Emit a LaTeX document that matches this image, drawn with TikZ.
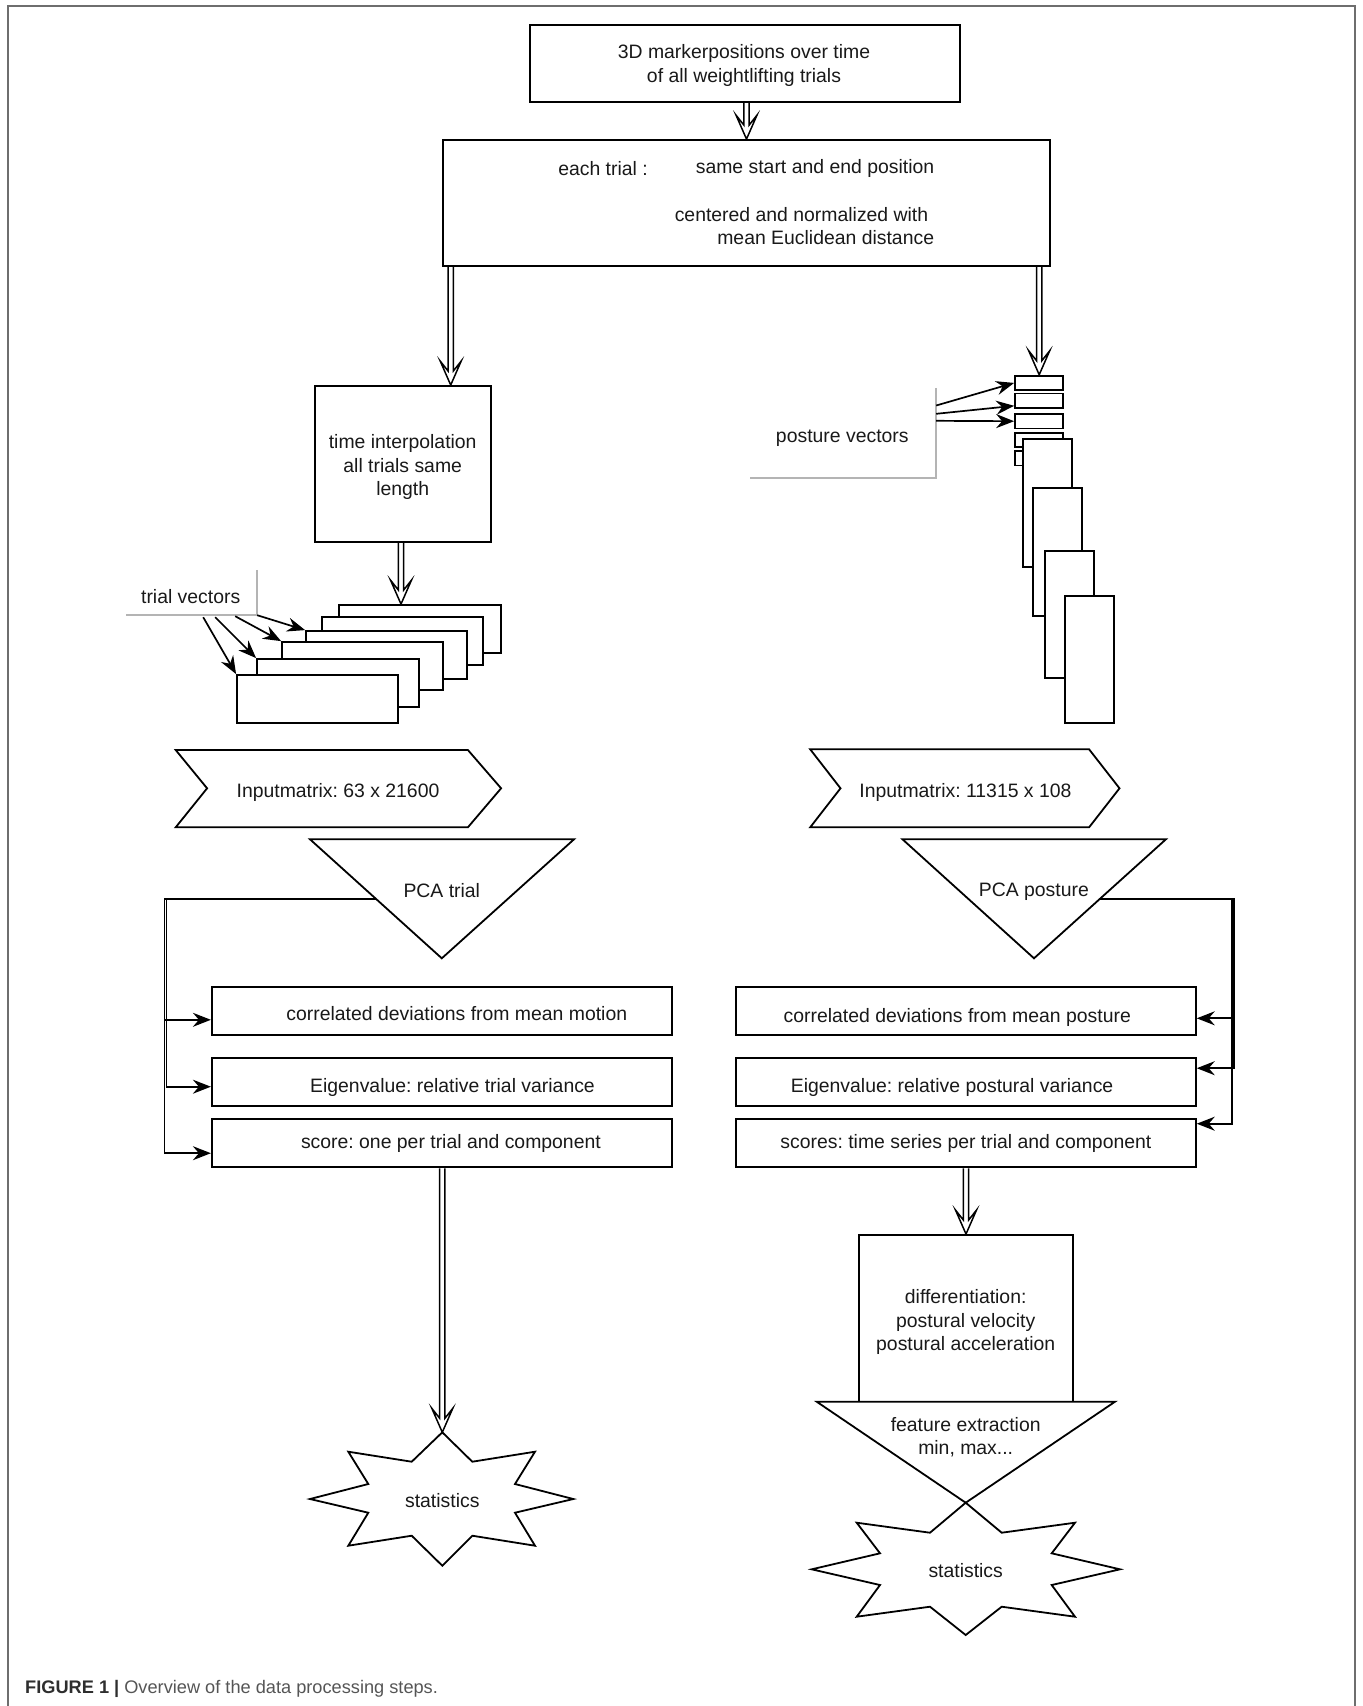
\documentclass[tikz,border=0pt]{standalone}
\usepackage{fontspec}
\setmainfont{Liberation Sans}
\usetikzlibrary{arrows.meta,calc}
\frenchspacing
\newcommand{\dfont}{\fontsize{19.4}{23.3}\selectfont}
\definecolor{framegray}{HTML}{6E6E6E}
\definecolor{lblgray}{HTML}{B4B4B4}
\definecolor{capdark}{HTML}{2E2E2E}
\definecolor{capgray}{HTML}{555555}
\newcommand{\bx}[5]{\node[bx,minimum width=#4pt,minimum height=#5pt] (#1) at (#2,#3) {};}
\newcommand{\dblarrow}[2]{%
  \coordinate (da-t) at #2;
  \coordinate (da-s) at (#1.south -| da-t);
  \draw[dbl] ($(da-s)+(-2.6,0)$) -- ($(da-t)+(-2.6,-14)$) -- ($(da-t)+(-10.5,-24)$) -- (da-t)
     -- ($(da-t)+(10.5,-24)$) -- ($(da-t)+(2.6,-14)$) -- ($(da-s)+(2.6,0)$);}
\begin{document}
\begin{tikzpicture}[x=1pt,y=-1pt,
  bx/.style={draw,line width=1.8pt,fill=white,inner sep=0pt},
  txt/.style={font=\dfont,inner sep=0pt,align=center,text=black!90,yshift=-2pt},
  dbl/.style={line width=1.5pt,line join=miter},
  tarrow/.style={line width=1.7pt,-{Stealth[length=18pt,width=14pt,inset=6pt]}},
  shp/.style={line width=1.8pt,fill=white,line join=miter},
  lblline/.style={draw=lblgray,line width=1.6pt}]
\useasboundingbox (0,0) rectangle (1363,1706);
% frame
\draw[framegray,line width=2pt] (8,1706) -- (8,6) -- (1355,6) -- (1355,1706);

% top boxes
\bx{box1}{745}{63.5}{430}{77}
\node[txt] (t1) at (744,63.5) {3D markerpositions over time\\of all weightlifting trials};
\bx{box2}{746.5}{203}{607}{126}
\node[txt] (t2a) at (603,166.7) {each trial :};
\node[txt] (t2b) at (815,166.7) {same start and end position};
\node[txt] (t2c) at (801.5,213) {centered and normalized with};
\node[txt] (t2d) at (825.7,236) {mean Euclidean distance};
\dblarrow{box1}{(box2.north)}

% left column: time interpolation
\bx{time}{402.7}{463.8}{176}{155.7}
\node[txt] (t3) at (402.7,465) {time interpolation\\all trials same\\length};
\dblarrow{box2}{($(time.north)+(48,0)$)}

% trial vectors stack
\bx{R5}{420}{629}{162}{48}
\bx{R4}{402.5}{641}{161}{48}
\bx{R3}{386.5}{655}{161}{48}
\bx{R2}{362.5}{666}{161}{48}
\bx{R1}{338}{683}{162}{48}
\bx{R0}{317.5}{699}{161}{48}
\dblarrow{time}{($(R5.north)+(-19,0)$)}
\node[minimum width=131pt,minimum height=45pt,inner sep=0pt] (tv) at (191.5,592.5) {};
\node[txt] (tvt) at (190.7,594.5) {trial vectors};
\draw[lblline] (tv.north east) -- (tv.south east) -- (tv.south west);
\draw[tarrow] (tv.south east) -- (R3.north west);
\draw[tarrow] ($(tv.south east)+(-22,1)$) -- (R2.north west);
\draw[tarrow] ($(tv.south east)+(-42,2)$) -- (R1.north west);
\draw[tarrow] ($(tv.south east)+(-54,2)$) -- (R0.north west);

% posture vectors stack
\bx{S1}{1039.2}{382.9}{48.3}{14.5}
\bx{S2}{1039.2}{400.8}{48.3}{14.5}
\bx{S3}{1039.2}{421.2}{48.3}{14.5}
\bx{S4}{1039.2}{440}{48.3}{14.5}
\bx{S5}{1039.2}{458.3}{48.3}{14.5}
\bx{T1}{1047.2}{502.8}{49}{127.7}
\bx{T2}{1057.7}{551.7}{48.7}{128}
\bx{T3}{1069.7}{614.7}{48.7}{127.3}
\bx{T4}{1089.7}{659.7}{48.7}{127.3}
\dblarrow{box2}{(S1.north)}
\node[minimum width=186pt,minimum height=90pt,inner sep=0pt] (pv) at (843,433) {};
\node[txt] (pvt) at (842.3,436.5) {posture vectors};
\draw[lblline] (pv.north east) -- (pv.south east) -- (pv.south west);
\draw[tarrow] ($(pv.north east)+(0,17.7)$) -- (S1.west);
\draw[tarrow] ($(pv.north east)+(0,26)$) -- ($(S2.west)+(0,5)$);
\draw[tarrow] ($(pv.north east)+(0,33)$) -- (S3.west);

% input matrices
\draw[shp] (175.7,750) -- (467.9,750) -- (501.1,788.3) -- (467.9,827.3) -- (175.7,827.3) -- (207.1,788.3) -- cycle;
\node[txt] (im1) at (338,790) {Inputmatrix: 63 x 21600};
\draw[shp] (810.2,749.3) -- (1089.1,749.3) -- (1119.5,788.3) -- (1089.1,827.3) -- (810.2,827.3) -- (840.5,788.3) -- cycle;
\node[txt] (im2) at (965.4,790) {Inputmatrix: 11315 x 108};

% PCA triangles
\coordinate (ltl) at (310,839.3);
\coordinate (ltr) at (574,839.3);
\coordinate (lap) at (441.8,958.3);
\draw[shp] (ltl) -- (ltr) -- (lap) -- cycle;
\node[txt,yshift=1pt] (pca1) at (441.8,889.3) {PCA trial};
\coordinate (rtl) at (902.5,839.3);
\coordinate (rtr) at (1165.9,839.3);
\coordinate (rap) at (1034,958.3);
\draw[shp] (rtl) -- (rtr) -- (rap) -- cycle;
\node[txt] (pca2) at (1033.9,889.3) {PCA posture};

% result boxes left
\bx{B1}{441.8}{1010.8}{460}{48.3}
\bx{B2}{441.8}{1082.2}{460}{47.7}
\bx{B3}{441.8}{1143.2}{460}{48.3}
\node[txt] (b1t) at (456.8,1011.7) {correlated deviations from mean motion};
\node[txt] (b2t) at (452.5,1085.7) {Eigenvalue: relative trial variance};
\node[txt] (b3t) at (450.9,1141.7) {score: one per trial and component};
\coordinate (lb) at ($(ltl)!0.504!(lap)$);
\draw[tarrow] (lb) -| ($(B1.west)+(-46.3,9)$) -- ($(B1.west)+(0,9)$);
\draw[tarrow] (lb) -| ($(B2.west)+(-44.4,4.5)$) -- ($(B2.west)+(0,4.5)$);
\draw[tarrow] (lb) -| ($(B3.west)+(-46.3,10)$) -- ($(B3.west)+(0,10)$);

% result boxes right
\bx{P1}{966}{1010.8}{459.7}{48.3}
\bx{P2}{966}{1082.2}{459.7}{47.7}
\bx{P3}{966}{1143.2}{459.7}{48.3}
\node[txt] (p1t) at (957.3,1015) {correlated deviations from mean posture};
\node[txt] (p2t) at (952.1,1085.7) {Eigenvalue: relative postural variance};
\node[txt] (p3t) at (965.9,1141.7) {scores: time series per trial and component};
\coordinate (rb) at ($(rtr)!0.504!(rap)$);
\draw[tarrow] (rb) -| ($(P1.east)+(35.1,7.5)$) -- ($(P1.east)+(0,7.5)$);
\draw[tarrow] (rb) -| ($(P2.east)+(37,-14)$) -- ($(P2.east)+(0,-14)$);
\draw[tarrow] (rb) -| ($(P3.east)+(35.1,-19.5)$) -- ($(P3.east)+(0,-19.5)$);

% left statistics
\coordinate (stlt) at (442.3,1432.3);
\draw[shp] (stlt) -- (411.7,1461.7) -- (348.3,1451.7) -- (368.3,1484) -- (310,1499) -- (368.3,1512.7) -- (348.3,1545.7) -- (411.7,1535.7) -- (442.3,1565.7) -- (472.3,1535.7) -- (535,1545.7) -- (515,1512.7) -- (573.3,1499) -- (515,1484) -- (535,1451.7) -- (472.3,1461.7) -- cycle;
\node[txt,yshift=2pt] (st1) at (442.3,1500.7) {statistics};
\dblarrow{B3}{(stlt)}

% right: differentiation, feature extraction, statistics
\bx{diff}{966}{1318.3}{213.4}{166.7}
\node[txt] (dft) at (965.7,1320) {differentiation:\\postural velocity\\postural acceleration};
\dblarrow{P3}{(diff.north)}
\coordinate (ftl) at (816.7,1401.7);
\coordinate (ftr) at (1115,1401.7);
\coordinate (fap) at (965.7,1502.7);
\draw[shp] (ftl) -- (ftr) -- (fap) -- cycle;
\node[txt] (fet) at (965.7,1435.3) {feature extraction\\min, max...};
\draw[shp] (fap) -- (1001.7,1532.7) -- (1075,1522.7) -- (1051.7,1553.3) -- (1120,1569.3) -- (1051.7,1585) -- (1075,1616.7) -- (1001.7,1606.7) -- (965.7,1635) -- (930,1606.7) -- (856.7,1616.7) -- (880,1585) -- (811.7,1569.3) -- (880,1553.3) -- (856.7,1522.7) -- (930,1532.7) -- cycle;
\node[txt,yshift=2pt] (st2) at (965.7,1570.7) {statistics};

% caption
\node[anchor=west,inner sep=0pt,font=\fontsize{18.2}{21}\selectfont] (cap) at (25,1689)
  {\textcolor{capdark}{\textbf{FIGURE 1 |}} \textcolor{capgray}{Overview of the data processing steps.}};
\end{tikzpicture}
\end{document}
